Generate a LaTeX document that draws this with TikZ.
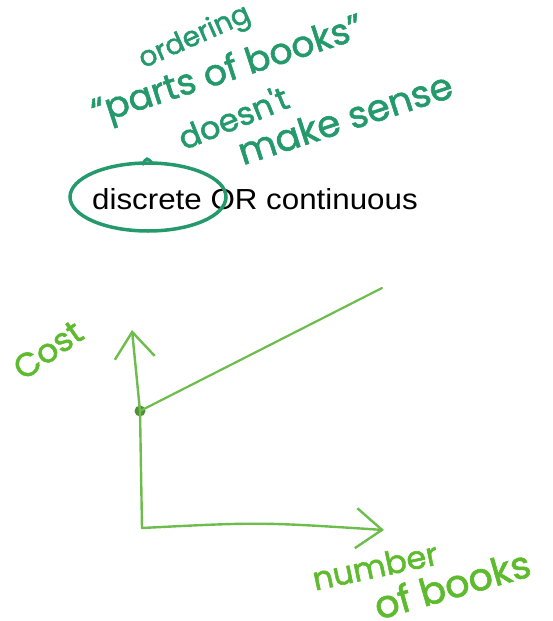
\documentclass[tikz,border=0pt]{standalone}
\usepackage{fontspec}
\usetikzlibrary{arrows.meta}
\setmainfont{Liberation Sans}
\newfontfamily\hand{Poppins}[FakeBold=1.6]
\definecolor{notegreen}{HTML}{23996C}
\definecolor{plotgreen}{HTML}{6CBD4C}
\definecolor{labelgreen}{HTML}{5DBB2D}
\newcommand\handsz[1]{\hand\fontsize{#1}{#1}\selectfont}
\tikzset{
  note/.style={text=notegreen,inner sep=0},
  lbl/.style={text=labelgreen,inner sep=0},
  axis/.style={draw=plotgreen,line width=2.4pt,line cap=round,
    -{Straight Barb[length=26pt,width=40pt,line width=2.4pt]}},
  ring/.style={draw=notegreen,line width=3.5pt},
}
\begin{document}
\begin{tikzpicture}[x=1pt,y=-1pt]
\useasboundingbox (0,0) rectangle (553,621);
% comment in teal
\node[note,rotate=24,font=\handsz{28}] (ord) at (195,38) {ordering};
\node[note,rotate=18,font=\handsz{36}] (parts) at (228,72) {“parts of books”};
\node[note,rotate=22,font=\handsz{32}] (does) at (233,117) {doesn't};
\node[note,rotate=18,font=\handsz{37}] (mk) at (345,118) {make sense};
\node[inner sep=0,font=\fontsize{29}{29}\selectfont,anchor=west,xscale=1.08] (title) at (92,199) {discrete OR continuous};
\draw[ring] (148,197) ellipse (78 and 34);
\draw[ring,line width=3pt] (142,165) .. controls (147,157) .. (153,164);
% the plot
\coordinate (o) at (142,528);
\coordinate (ytop) at (132,330);
\coordinate (xend) at (384,530);
\coordinate (far) at (382,288);
\node[circle,fill=plotgreen!75!black,inner sep=0,minimum size=11pt] (p0) at (140,411) {};
\draw[axis] (o) -- (p0.center) -- (ytop);
\draw[axis] (o) .. controls (260,522) .. (xend);
\draw[draw=plotgreen,line width=2.2pt,line cap=round] (p0.center) -- (far);
\node[lbl,rotate=35,font=\handsz{33}] (cost) at (48,350) {Cost};
\node[lbl,rotate=12,font=\handsz{32}] (num) at (375,566) {number};
\node[lbl,rotate=16,font=\handsz{38}] (books) at (452,584) {of books};
\end{tikzpicture}
\end{document}
